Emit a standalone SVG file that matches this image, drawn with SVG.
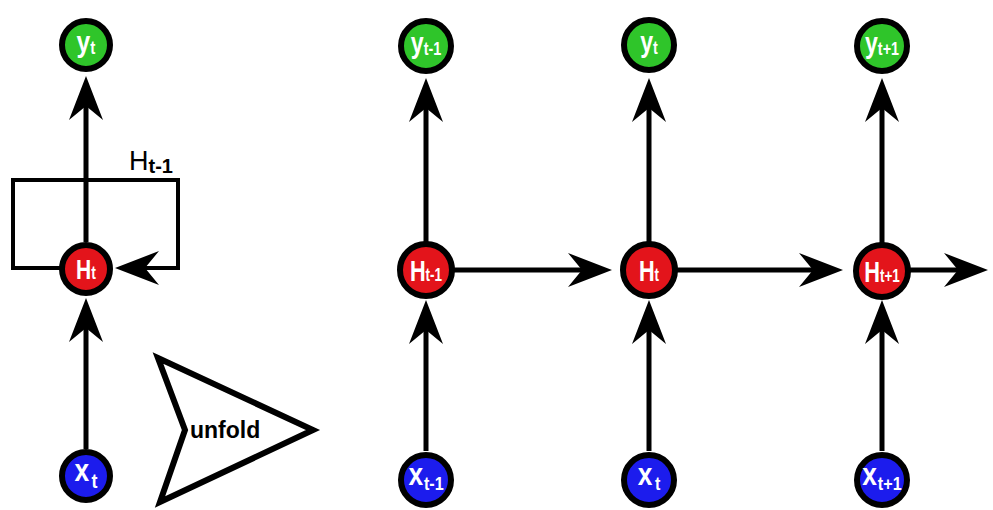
<svg xmlns="http://www.w3.org/2000/svg" width="993" height="510" viewBox="0 0 993 510">
<style>
.bg{fill:#ffffff}
.ln{fill:none;stroke:#000;stroke-width:5}
.loop{fill:none;stroke:#000;stroke-width:4}
.node{stroke:#000;stroke-width:6}
.g{fill:#2fc52a}
.r{fill:#e3141b}
.b{fill:#1c1ced}
.lbl{fill:#fff;font-family:"Liberation Sans","DejaVu Sans",sans-serif;font-weight:bold;text-anchor:middle}
.big{font-size:29px}
.sub{font-size:18px}
.blk{fill:#000;font-family:"Liberation Sans","DejaVu Sans",sans-serif}
</style>
<defs>
<marker id="ah" viewBox="-45 -18 46 36" markerWidth="46" markerHeight="36" refX="-30" refY="0" orient="auto" markerUnits="userSpaceOnUse">
<path d="M0,0 L-44,-17 L-30,0 L-44,17 Z" fill="#000"/>
</marker>
</defs>
<rect class="bg" x="0" y="0" width="993" height="510"/>
<g id="connectors">
<path class="ln" d="M86,449 V328" marker-end="url(#ah)"/>
<path class="ln" d="M86,242 V106" marker-end="url(#ah)"/>
<path class="loop" d="M61,268 H13 V180 H178 V268 H145" marker-end="url(#ah)"/>
<path class="ln" d="M426,451 V330" marker-end="url(#ah)"/>
<path class="ln" d="M649,451 V330" marker-end="url(#ah)"/>
<path class="ln" d="M882,451 V330" marker-end="url(#ah)"/>
<path class="ln" d="M426,243 V108" marker-end="url(#ah)"/>
<path class="ln" d="M649,243 V108" marker-end="url(#ah)"/>
<path class="ln" d="M882,243 V108" marker-end="url(#ah)"/>
<path class="ln" d="M453,270 H582" marker-end="url(#ah)"/>
<path class="ln" d="M676,270 H813" marker-end="url(#ah)"/>
<path class="ln" d="M909,270 H958" marker-end="url(#ah)"/>
</g>
<g id="label-Htm1">
<text class="blk" x="129" y="170" font-size="27">H<tspan font-size="20" font-weight="bold" dy="3">t-1</tspan></text>
</g>
<g id="unfold">
<path d="M158,358 L313,430 L160,502 L185,430 Z" fill="none" stroke="#000" stroke-width="6" stroke-linejoin="miter"/>
<text class="blk" x="190" y="438" font-size="23" font-weight="bold">unfold</text>
</g>
<g id="y_left">
<circle class="node g" cx="86" cy="45" r="24"/>
<text class="lbl" transform="translate(86,52) scale(0.85,1)"><tspan class="big">y</tspan><tspan class="sub" dy="2">t</tspan></text>
</g>
<g id="H_left">
<circle class="node r" cx="86" cy="269" r="24"/>
<text class="lbl" transform="translate(86,279) scale(0.78,1)"><tspan font-size="27">H</tspan><tspan class="sub">t</tspan></text>
</g>
<g id="x_left">
<circle class="node b" cx="86" cy="476" r="24"/>
<text class="lbl" transform="translate(86,481) scale(0.85,1)"><tspan font-size="31">x</tspan><tspan font-size="21" dx="3" dy="7">t</tspan></text>
</g>
<g id="y_tm1">
<circle class="node g" cx="426" cy="46" r="25"/>
<text class="lbl" transform="translate(426,53) scale(0.8,1)"><tspan class="big">y</tspan><tspan class="sub" dy="2">t-1</tspan></text>
</g>
<g id="y_t">
<circle class="node g" cx="649" cy="45" r="25"/>
<text class="lbl" transform="translate(649,52) scale(0.8,1)"><tspan class="big">y</tspan><tspan class="sub" dy="2">t</tspan></text>
</g>
<g id="y_tp1">
<circle class="node g" cx="882" cy="46" r="25"/>
<text class="lbl" transform="translate(882,53) scale(0.8,1)"><tspan class="big">y</tspan><tspan class="sub" dy="2">t+1</tspan></text>
</g>
<g id="H_tm1">
<circle class="node r" cx="426" cy="270" r="26"/>
<text class="lbl" transform="translate(426,281) scale(0.75,1)"><tspan font-size="29">H</tspan><tspan class="sub">t-1</tspan></text>
</g>
<g id="H_t">
<circle class="node r" cx="649" cy="270" r="26"/>
<text class="lbl" transform="translate(649,281) scale(0.75,1)"><tspan font-size="29">H</tspan><tspan class="sub">t</tspan></text>
</g>
<g id="H_tp1">
<circle class="node r" cx="882" cy="271" r="26"/>
<text class="lbl" transform="translate(882,282) scale(0.75,1)"><tspan font-size="29">H</tspan><tspan class="sub">t+1</tspan></text>
</g>
<g id="x_tm1">
<circle class="node b" cx="426" cy="480" r="25"/>
<text class="lbl" transform="translate(426,485) scale(0.85,1)"><tspan font-size="31">x</tspan><tspan font-size="19" dx="1" dy="5">t-1</tspan></text>
</g>
<g id="x_t">
<circle class="node b" cx="649" cy="480" r="25"/>
<text class="lbl" transform="translate(649,485) scale(0.85,1)"><tspan font-size="31">x</tspan><tspan font-size="19" dx="3" dy="5">t</tspan></text>
</g>
<g id="x_tp1">
<circle class="node b" cx="882" cy="480" r="25"/>
<text class="lbl" transform="translate(882,485) scale(0.85,1)"><tspan font-size="31">x</tspan><tspan font-size="19" dx="1" dy="5">t+1</tspan></text>
</g>
</svg>
